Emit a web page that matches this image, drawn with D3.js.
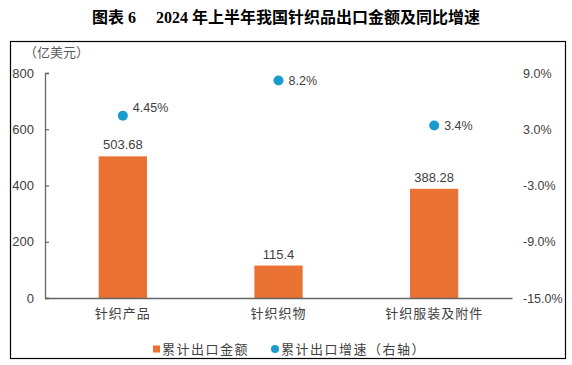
<!DOCTYPE html>
<html>
<head>
<meta charset="utf-8">
<script src="https://cdn.jsdelivr.net/npm/d3@7"></script>
<style>
  body { margin: 0; background: #fff; }
  svg { display: block; }
</style>
</head>
<body>
<script>
const categories = ['针织产品', '针织织物', '针织服装及附件'];
const amounts = [503.68, 115.4, 388.28];
const growth = [4.45, 8.2, 3.4];
const growthLabels = ['4.45%', '8.2%', '3.4%'];
const leftTicks = [0, 200, 400, 600, 800];
const rightTicks = [-15, -9, -3, 3, 9];

const width = 572;
const height = 365;
const cjk = '"Liberation Sans", "Noto Sans CJK SC", sans-serif';

const svg = d3.select('body').append('svg')
  .attr('width', width)
  .attr('height', height);

svg.append('rect').attr('width', width).attr('height', height).attr('fill', '#fff');

// title
svg.append('text')
  .attr('x', 286).attr('y', 23)
  .attr('text-anchor', 'middle')
  .style('font-family', '"Liberation Serif", "Noto Sans CJK SC", serif')
  .style('font-weight', 'bold')
  .style('font-size', '16px')
  .attr('fill', '#000')
  .text('图表 6\u2003 2024 年上半年我国针织品出口金额及同比增速');

// frame
svg.append('rect')
  .attr('x', 10.5).attr('y', 41.5)
  .attr('width', 555).attr('height', 317)
  .attr('fill', 'none').attr('stroke', '#000').attr('stroke-width', 1.2);

const x = d3.scaleBand()
  .domain(categories)
  .range([45, 512])
  .paddingInner(0.69)
  .paddingOuter(0.345);

const y = d3.scaleLinear().domain([0, 800]).range([298, 73]);
const y2 = d3.scaleLinear().domain([-15, 9]).range([298, 73]);

// left axis
const gl = svg.append('g')
  .attr('transform', 'translate(45,0)')
  .call(d3.axisRight(y).tickValues(leftTicks).tickSize(4).tickFormat(d3.format('d')));
gl.select('.domain').attr('stroke', '#666').attr('stroke-width', 1.3);
gl.selectAll('.tick line').attr('stroke', '#666').attr('stroke-width', 1.2);
gl.selectAll('.tick text')
  .attr('x', -11).attr('text-anchor', 'end')
  .attr('fill', '#404040')
  .style('font-family', cjk).style('font-size', '13px');

svg.append('text')
  .attr('x', 24).attr('y', 57)
  .attr('fill', '#595959')
  .style('font-family', cjk).style('font-size', '13px')
  .text('（亿美元）');

// right axis labels only
const gr = svg.append('g')
  .attr('transform', 'translate(523,0)')
  .call(d3.axisRight(y2).tickValues(rightTicks).tickSize(0)
    .tickFormat(d => d.toFixed(1) + '%'));
gr.select('.domain').remove();
gr.selectAll('.tick text')
  .attr('x', 0).attr('text-anchor', 'start')
  .attr('fill', '#404040')
  .style('font-family', cjk).style('font-size', '12.5px');

// bars
svg.selectAll('.bar')
  .data(amounts)
  .enter().append('rect')
  .attr('class', 'bar')
  .attr('x', (d, i) => x(categories[i]))
  .attr('width', x.bandwidth())
  .attr('y', d => y(d))
  .attr('height', d => y(0) - y(d))
  .attr('fill', '#E97132');

svg.selectAll('.bar-label')
  .data(amounts)
  .enter().append('text')
  .attr('x', (d, i) => x(categories[i]) + x.bandwidth() / 2)
  .attr('y', d => y(d) - 7)
  .attr('text-anchor', 'middle')
  .attr('fill', '#404040')
  .style('font-family', cjk).style('font-size', '13px')
  .text(d => d);

// x axis
const gx = svg.append('g')
  .attr('transform', 'translate(0,298)')
  .call(d3.axisBottom(x).tickSize(0).tickPadding(11));
gx.select('.domain').attr('stroke', '#666').attr('stroke-width', 1.3);
gx.selectAll('.tick text')
  .attr('fill', '#404040')
  .style('font-family', cjk).style('font-size', '13px')
  .style('letter-spacing', '1px');

// growth dots
svg.selectAll('.dot')
  .data(growth)
  .enter().append('circle')
  .attr('cx', (d, i) => x(categories[i]) + x.bandwidth() / 2)
  .attr('cy', d => y2(d))
  .attr('r', 5)
  .attr('fill', '#1A9BD0');

svg.selectAll('.dot-label')
  .data(growth)
  .enter().append('text')
  .attr('x', (d, i) => x(categories[i]) + x.bandwidth() / 2 + 10)
  .attr('y', (d, i) => y2(d) + (i === 0 ? -4 : 4.5))
  .attr('fill', '#404040')
  .style('font-family', cjk).style('font-size', '12.5px')
  .text((d, i) => growthLabels[i]);

// legend
const legend = svg.append('g').attr('transform', 'translate(0,349)');
legend.append('rect')
  .attr('x', 153).attr('y', -3.5).attr('width', 7).attr('height', 7)
  .attr('fill', '#E97132');
legend.append('text')
  .attr('x', 162).attr('y', 5)
  .attr('fill', '#404040')
  .style('font-family', cjk).style('font-size', '13px')
  .style('letter-spacing', '1.5px')
  .text('累计出口金额');
legend.append('circle')
  .attr('cx', 275).attr('cy', 0).attr('r', 4)
  .attr('fill', '#1A9BD0');
legend.append('text')
  .attr('x', 281).attr('y', 5)
  .attr('fill', '#404040')
  .style('font-family', cjk).style('font-size', '13px')
  .style('letter-spacing', '1.5px')
  .text('累计出口增速（右轴）');
</script>
</body>
</html>
